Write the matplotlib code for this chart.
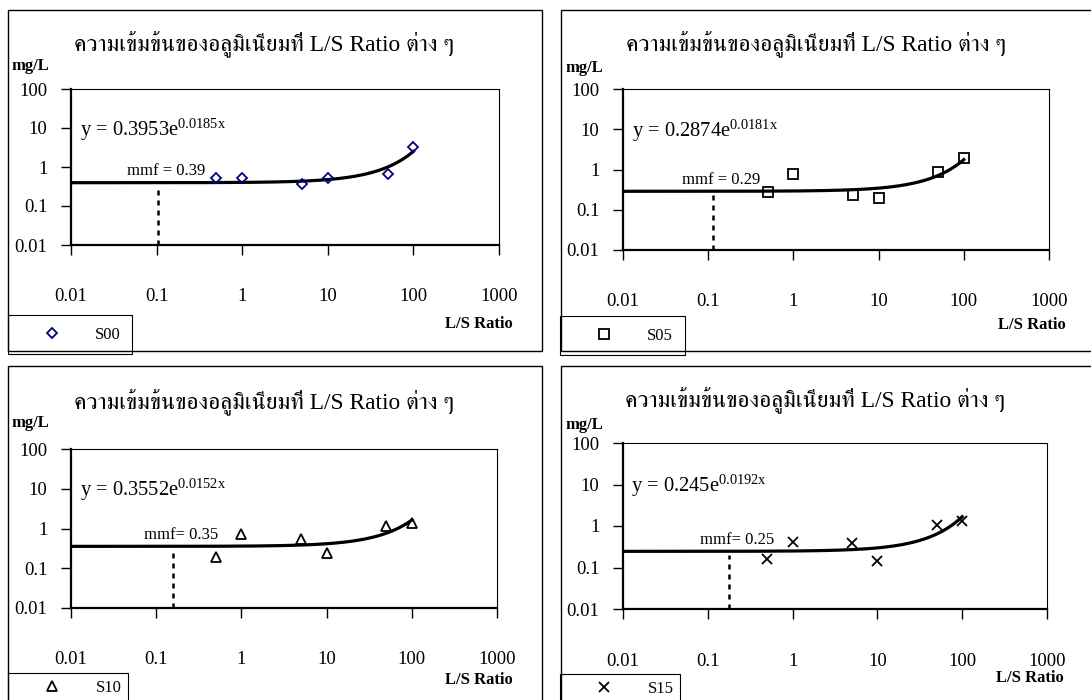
import matplotlib
matplotlib.use("Agg")
import matplotlib.pyplot as plt
import numpy as np
from matplotlib import font_manager
from matplotlib.ft2font import FT2Font
from matplotlib.patches import Rectangle

# ── ข้อมูล ────────────────────────────────────────────────────────────────
LS_RATIO = [0.5, 1, 5, 10, 50, 100]
SERIES = ["S00", "S05", "S10", "S15"]
S00 = [0.51, 0.51, 0.36, 0.51, 0.67, 3.2]
S05 = [0.27, 0.76, 0.23, 0.20, 0.89, 1.9]
S10 = [0.19, 0.74, 0.54, 0.245, 1.15, 1.4]
S15 = [0.16, 0.41, 0.39, 0.146, 1.07, 1.34]
TREND_A = [0.3953, 0.2874, 0.3552, 0.245]
TREND_B = [0.0185, 0.0181, 0.0152, 0.0192]
MMF_LABEL = ["mmf = 0.39", "mmf = 0.29", "mmf= 0.35", "mmf= 0.25"]
MMF_X = [0.104, 0.113, 0.158, 0.178]
X_TICKS = [0.01, 0.1, 1, 10, 100, 1000]
X_LABELS = ["0.01", "0.1", "1", "10", "100", "1000"]
Y_TICKS = [0.01, 0.1, 1, 10, 100]
Y_LABELS = ["0.01", "0.1", "1", "10", "100"]
TITLE = "ความเข้มข้นของอลูมิเนียมที่ L/S Ratio ต่าง ๆ"

W, H = 1091, 700


def fonte_tailandesa():
    """Procura uma fonte instalada que tenha glifos tailandeses."""
    achadas = []
    for f in font_manager.fontManager.ttflist:
        try:
            cmap = FT2Font(f.fname).get_charmap()
        except Exception:
            continue
        if 0x0E04 in cmap and 0x0E46 in cmap:
            achadas.append(f.name)
    serif = [n for n in achadas if "Serif" in n or "Looped" in n]
    if serif:
        return serif[0]
    return achadas[0] if achadas else None


thai = fonte_tailandesa()
SERIF = "Liberation Serif"
title_family = [SERIF, thai] if thai else [SERIF]

plt.rcParams["font.family"] = [SERIF, "DejaVu Serif"]
plt.rcParams["mathtext.fontset"] = "custom"
plt.rcParams["mathtext.rm"] = SERIF
plt.rcParams["mathtext.it"] = SERIF + ":italic"


def fx(px):
    return px / W


def fy(py):
    return 1 - py / H


# layout de cada painel em pixels (bp/hl/tp = ajustes da legenda)
PANELS = [
    dict(frame=(8, 10, 541.7, 350.7), ax=(71, 89, 499, 245), title=(264, 44),
         unit=(12, 66), xlab=(513, 324), leg=(8, 315), xpad=24,
         bp=0.7, hl=3.9, tp=0.62),
    dict(frame=(561, 10, 1100, 350.7), ax=(623, 89, 1049, 250), title=(816, 44),
         unit=(565, 68), xlab=(1066, 325), leg=(560, 316), xpad=24,
         bp=0.7, hl=3.9, tp=0.62),
    dict(frame=(8, 365.7, 541.7, 720), ax=(71, 449, 497, 608), title=(264, 402),
         unit=(12, 423), xlab=(513, 680), leg=(8, 673), xpad=24,
         bp=0.4, hl=4.5, tp=0.35),
    dict(frame=(561, 365.7, 1100, 720), ax=(623, 443, 1047, 609), title=(815, 400),
         unit=(565, 425), xlab=(1064, 678), leg=(560, 674), xpad=25,
         bp=0.4, hl=4.5, tp=0.35),
]

MARKERS = [
    dict(marker="D", ms=5.5, mec="#00007F"),
    dict(marker="s", ms=6.5, mec="black"),
    dict(marker="^", ms=7, mec="black"),
    dict(marker="x", ms=7, mec="black"),
]

dados = [S00, S05, S10, S15]

fig = plt.figure(figsize=(W / 100, H / 100), dpi=100)

for i, p in enumerate(PANELS):
    x0, y0, x1, y1 = p["frame"]
    fig.patches.append(Rectangle((fx(x0), fy(y1)), fx(x1 - x0), (y1 - y0) / H,
                                 transform=fig.transFigure, fill=False,
                                 edgecolor="black", linewidth=1.0))

    l, t, r, b = p["ax"]
    ax = fig.add_axes([fx(l), fy(b), fx(r - l), (b - t) / H])
    ax.set_xscale("log")
    ax.set_yscale("log")
    ax.set_xlim(0.01, 1000)
    ax.set_ylim(0.01, 100)

    # linha de tendência exponencial (equação exibida no gráfico)
    a, k = TREND_A[i], TREND_B[i]
    xs = np.logspace(-2, 2, 400)
    ax.plot(xs, a * np.exp(k * xs), color="black", linewidth=2.3, zorder=2)

    # pontos medidos
    m = MARKERS[i]
    ax.plot(LS_RATIO, dados[i], linestyle="none", marker=m["marker"],
            markersize=m["ms"], markerfacecolor="none", markeredgecolor=m["mec"],
            markeredgewidth=1.3, label=SERIES[i], zorder=3)

    # linha pontilhada do mmf
    y_mmf = a * np.exp(k * MMF_X[i])
    ax.plot([MMF_X[i], MMF_X[i]], [0.01, y_mmf * 0.82], color="black",
            linestyle=(0, (2, 2)), linewidth=1.8, zorder=2)
    ax.annotate(MMF_LABEL[i], xy=(MMF_X[i], y_mmf), xytext=(6, 2.5),
                textcoords="offset points", ha="center", va="bottom", fontsize=12)

    # equação
    ax.text(0.02, 0.74, "y = %se$^{\\mathrm{%sx}}$" % (str(a), str(k)),
            transform=ax.transAxes, ha="left", va="center", fontsize=14.8)

    ax.set_xticks(X_TICKS)
    ax.set_xticklabels(X_LABELS)
    ax.set_yticks(Y_TICKS)
    ax.set_yticklabels(Y_LABELS)
    ax.minorticks_off()
    ax.tick_params(axis="x", direction="out", length=7, width=1.0,
                   pad=p["xpad"], labelsize=13.5)
    ax.tick_params(axis="y", direction="out", length=7, width=1.0,
                   pad=10, labelsize=13.5)
    for s in ("left", "bottom"):
        ax.spines[s].set_linewidth(1.6)
    for s in ("top", "right"):
        ax.spines[s].set_linewidth(0.8)

    # textos do painel
    fig.text(fx(p["title"][0]), fy(p["title"][1]), TITLE, ha="center",
             va="center", fontsize=16.8, family=title_family)
    fig.text(fx(p["unit"][0]), fy(p["unit"][1]), "mg/L", ha="left",
             va="center", fontsize=12, fontweight="bold")
    fig.text(fx(p["xlab"][0]), fy(p["xlab"][1]), "L/S Ratio", ha="right",
             va="center", fontsize=12, fontweight="bold")

    leg = ax.legend(loc="upper left",
                    bbox_to_anchor=(fx(p["leg"][0]), fy(p["leg"][1])),
                    bbox_transform=fig.transFigure, fontsize=12,
                    frameon=True, fancybox=False, framealpha=1,
                    edgecolor="black", borderpad=p["bp"], handlelength=p["hl"],
                    handletextpad=p["tp"], borderaxespad=0)
    leg.get_frame().set_linewidth(0.8)

fig.savefig("out.png", dpi=100)
